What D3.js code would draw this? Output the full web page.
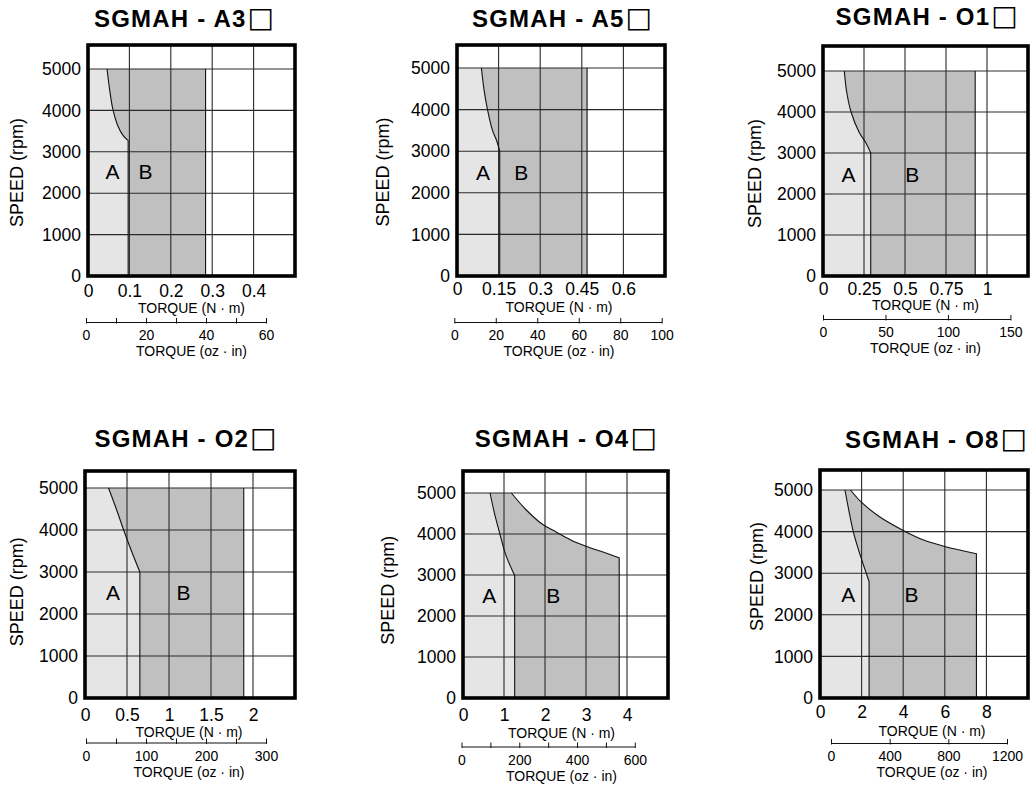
<!DOCTYPE html>
<html><head><meta charset="utf-8">
<script src="https://cdn.jsdelivr.net/npm/d3@7"></script>
<style>
body{margin:0;background:#fff}
text{font-family:"Liberation Sans",Arial,Helvetica,sans-serif;fill:#000}
</style>
</head><body><svg id="c" width="1034" height="789"></svg>
<script>
// ---------------- DATA ----------------
const models = ["SGMAH - A3", "SGMAH - A5", "SGMAH - O1", "SGMAH - O2", "SGMAH - O4", "SGMAH - O8"];
const torqueMax = [0.5, 0.75, 1.25, 2.5, 5, 10];               // N·m, grid extent
const torqueTicks = [
  [0, 0.1, 0.2, 0.3, 0.4],
  [0, 0.15, 0.3, 0.45, 0.6],
  [0, 0.25, 0.5, 0.75, 1],
  [0, 0.5, 1, 1.5, 2],
  [0, 1, 2, 3, 4],
  [0, 2, 4, 6, 8]
];
const speedTicks = [0, 1000, 2000, 3000, 4000, 5000];
const ozLabelTicks = [[0, 20, 40, 60], [0, 20, 40, 60, 80, 100], [0, 50, 100, 150], [0, 100, 200, 300], [0, 200, 400, 600], [0, 400, 800, 1200]];
const ozMinorTicks = [[10, 30, 50], [], [], [50, 150, 250], [100, 300, 500], []];
const ozMax = [60, 100, 150, 300, 600, 1200];
const maxSpeed = 5000;

// A/B boundary curves: [torque N·m, speed rpm], from top down
const boundaryA3 = [[0.046, 5000], [0.052, 4520], [0.060, 4030], [0.072, 3630], [0.085, 3390], [0.097, 3270]];
const boundaryA5 = [[0.088, 5000], [0.097, 4500], [0.110, 4000], [0.128, 3500], [0.143, 3250], [0.154, 3000]];
const boundaryO1 = [[0.130, 5000], [0.144, 4500], [0.171, 4000], [0.221, 3500], [0.261, 3250], [0.291, 3000]];
const boundaryO2 = [[0.28, 5000], [0.373, 4500], [0.46, 4000], [0.553, 3500], [0.653, 3000]];
const boundaryO4 = [[0.66, 5000], [0.762, 4530], [0.899, 4005], [1.043, 3490], [1.26, 2990]];
const boundaryO8 = [[1.2, 5000], [1.39, 4500], [1.6, 4000], [1.89, 3500], [2.36, 2800]];

// Outer envelope of region B: [torque, speed], from the 5000 rpm line to the right edge top
const envelopeA3 = [[0.284, 5000]];
const envelopeA5 = [[0.469, 5000]];
const envelopeO1 = [[0.928, 5000]];
const envelopeO2 = [[1.89, 5000]];
const envelopeO4 = [[1.18, 5000], [1.52, 4610], [1.92, 4250], [2.28, 4045], [2.64, 3850], [3.05, 3685], [3.45, 3550], [3.81, 3420]];
const envelopeO8 = [[1.47, 5000], [1.95, 4726], [2.88, 4351], [4.0, 4029], [4.95, 3805], [6.0, 3644], [7.52, 3469]];

// region label anchors [torque, speed]
const labelA = [[0.059, 2530], [0.094, 2500], [0.156, 2480], [0.333, 2520], [0.64, 2490], [1.36, 2480]];
const labelB = [[0.139, 2530], [0.232, 2500], [0.545, 2480], [1.174, 2520], [2.20, 2490], [4.4, 2480]];

const boundaries = [boundaryA3, boundaryA5, boundaryO1, boundaryO2, boundaryO4, boundaryO8];
const envelopes = [envelopeA3, envelopeA5, envelopeO1, envelopeO2, envelopeO4, envelopeO8];

// ---------------- LAYOUT ----------------
const layout = [
  {left: 88,  top: 45,  bottom: 276, w: 207, titleX: 184, titleY: 27.3, ylabDx: -71, ylabRpm: 2500, tickY: 21, nmY: 36.5, ozY: 46, ozStart: -2, ozLen: 180, labShift: 0},
  {left: 457, top: 45,  bottom: 276, w: 208, titleX: 562, titleY: 26.7, ylabDx: -74, ylabRpm: 2500, tickY: 19, nmY: 36, ozY: 46, ozStart: -2.7, ozLen: 207.4, labShift: -2},
  {left: 823, top: 46,  bottom: 276, w: 205, titleX: 926.7, titleY: 25, ylabDx: -68, ylabRpm: 2500, tickY: 19, nmY: 34, ozY: 43, ozStart: 0, ozLen: 187.4, labShift: 0},
  {left: 85,  top: 471, bottom: 698, w: 210, titleX: 185.5, titleY: 446.7, ylabDx: -68, ylabRpm: 2530, tickY: 23, nmY: 39, ozY: 44.5, ozStart: 1, ozLen: 180, labShift: -1},
  {left: 463, top: 471, bottom: 698, w: 205, titleX: 565.8, titleY: 446.7, ylabDx: -75, ylabRpm: 2630, tickY: 23, nmY: 40, ozY: 48.5, ozStart: -1.5, ozLen: 173.3, labShift: -4},
  {left: 820, top: 470, bottom: 698, w: 208, titleX: 936, titleY: 448.3, ylabDx: -63, ylabRpm: 2920, tickY: 20, nmY: 38, ozY: 45, ozStart: 11, ozLen: 176, labShift: 8}
];

const LIGHT = "#e5e5e5", DARK = "#c0c0c0", GRID = "#2a2a2a";
const svg = d3.select("#c");
svg.append("rect").attr("width", 1034).attr("height", 789).attr("fill", "#fff");

models.forEach((name, i) => {
  const L = layout[i];
  const g = svg.append("g");
  const x = d3.scaleLinear().domain([0, torqueMax[i]]).range([L.left, L.left + L.w]);
  const gridPx = (L.w / 5);
  const y = d3.scaleLinear().domain([0, maxSpeed]).range([L.bottom, L.bottom - gridPx * 5]);
  const cx = L.left + L.w / 2 + L.labShift;

  const bnd = boundaries[i], env = envelopes[i];
  const xv = bnd[bnd.length - 1][0];
  const xr = env[env.length - 1][0];

  const curve = d3.line().x(d => x(d[0])).y(d => y(d[1])).curve(d3.curveCatmullRom.alpha(0.5));
  const bndPath = curve(bnd);
  const envFwd = curve(env);
  const envRev = curve(env.slice().reverse());

  // Region A (light)
  const aPath = "M" + x(0) + "," + y(0) + "L" + x(0) + "," + y(maxSpeed) + "L" + bndPath.slice(1) +
    "L" + x(xv) + "," + y(0) + "Z";
  g.append("path").attr("d", aPath).attr("fill", LIGHT);

  // Region B (dark)
  const bPath = bndPath + "L" + x(xv) + "," + y(0) + "L" + x(xr) + "," + y(0) + "L" + envRev.slice(1) + "Z";
  g.append("path").attr("d", bPath).attr("fill", DARK);

  // grid
  const vGrid = d3.range(1, 5).map(k => k * torqueMax[i] / 5);
  g.selectAll(null).data(vGrid).enter().append("line")
    .attr("x1", d => x(d)).attr("x2", d => x(d)).attr("y1", L.top).attr("y2", L.bottom)
    .attr("stroke", GRID).attr("stroke-width", 1.1);
  g.selectAll(null).data(speedTicks.slice(1)).enter().append("line")
    .attr("x1", L.left).attr("x2", L.left + L.w).attr("y1", d => y(d)).attr("y2", d => y(d))
    .attr("stroke", GRID).attr("stroke-width", 1.1);

  // boundary strokes
  g.append("path").attr("d", bndPath + "L" + x(xv) + "," + y(0))
    .attr("fill", "none").attr("stroke", "#111").attr("stroke-width", 1.1);
  g.append("path").attr("d", envFwd + "L" + x(xr) + "," + y(0))
    .attr("fill", "none").attr("stroke", "#111").attr("stroke-width", 1.1);

  // frame
  g.append("rect").attr("x", L.left).attr("y", L.top).attr("width", L.w).attr("height", L.bottom - L.top)
    .attr("fill", "none").attr("stroke", "#000").attr("stroke-width", 3.6);

  // region labels
  g.append("text").attr("x", x(labelA[i][0])).attr("y", y(labelA[i][1])).attr("dy", "0.36em")
    .attr("text-anchor", "middle").attr("font-size", 21).text("A");
  g.append("text").attr("x", x(labelB[i][0])).attr("y", y(labelB[i][1])).attr("dy", "0.36em")
    .attr("text-anchor", "middle").attr("font-size", 21).text("B");

  // y axis labels
  const ya = d3.axisLeft(y).tickValues(speedTicks).tickSize(0).tickPadding(6).tickFormat(d3.format("d"));
  const yg = g.append("g").attr("transform", `translate(${L.left - 1},0)`).call(ya);
  yg.select(".domain").remove();
  yg.selectAll("text").attr("font-size", 17.5).attr("font-family", null).attr("fill", "#000");

  // N·m tick labels
  const xa = d3.axisBottom(x).tickValues(torqueTicks[i]).tickSize(0).tickPadding(0).tickFormat(d3.format("~g"));
  const xg = g.append("g").attr("transform", `translate(0,${L.bottom + L.tickY})`).call(xa);
  xg.select(".domain").remove();
  xg.selectAll("text").attr("font-size", 17.5).attr("font-family", null).attr("fill", "#000").attr("dy", null).attr("y", 0);

  g.append("text").attr("x", cx).attr("y", L.bottom + L.nmY).attr("text-anchor", "middle")
    .attr("font-size", 14).text("TORQUE (N · m)");

  // oz·in axis
  const oz = d3.scaleLinear().domain([0, ozMax[i]]).range([L.left + L.ozStart, L.left + L.ozStart + L.ozLen]);
  const allOz = ozLabelTicks[i].concat(ozMinorTicks[i]).sort((a, b) => a - b);
  const oa = d3.axisBottom(oz).tickValues(allOz).tickSizeInner(-4).tickSizeOuter(0).tickPadding(8)
    .tickFormat(d => ozLabelTicks[i].includes(d) ? d3.format("d")(d) : "");
  const og = g.append("g").attr("transform", `translate(0,${L.bottom + L.ozY})`).call(oa);
  og.select(".domain").attr("stroke", "#111").attr("stroke-width", 1.2);
  og.selectAll(".tick line").attr("stroke", "#111").attr("y1", 1.5);
  og.selectAll("text").attr("font-size", 14).attr("font-family", null).attr("fill", "#000").attr("dy", null).attr("y", 18);

  g.append("text").attr("x", cx).attr("y", L.bottom + L.ozY + 34).attr("text-anchor", "middle")
    .attr("font-size", 14).text("TORQUE (oz · in)");

  // speed label
  const ylx = L.left + L.ylabDx, yly = y(L.ylabRpm);
  g.append("text").attr("transform", `translate(${ylx},${yly}) rotate(-90)`).attr("dy", "0.35em")
    .attr("text-anchor", "middle").attr("font-size", 18).text("SPEED (rpm)");

  // title
  const t = g.append("text").attr("x", L.titleX).attr("y", L.titleY).attr("text-anchor", "middle")
    .attr("font-size", 24).attr("font-weight", "bold").attr("letter-spacing", 1.2);
  t.append("tspan").text(name);
  t.append("tspan").attr("font-family", "DejaVu Sans").attr("font-weight", "bold")
    .attr("font-size", 28).attr("letter-spacing", 0).attr("dx", 1).text("\u25A1");
});
</script>
</body></html>
